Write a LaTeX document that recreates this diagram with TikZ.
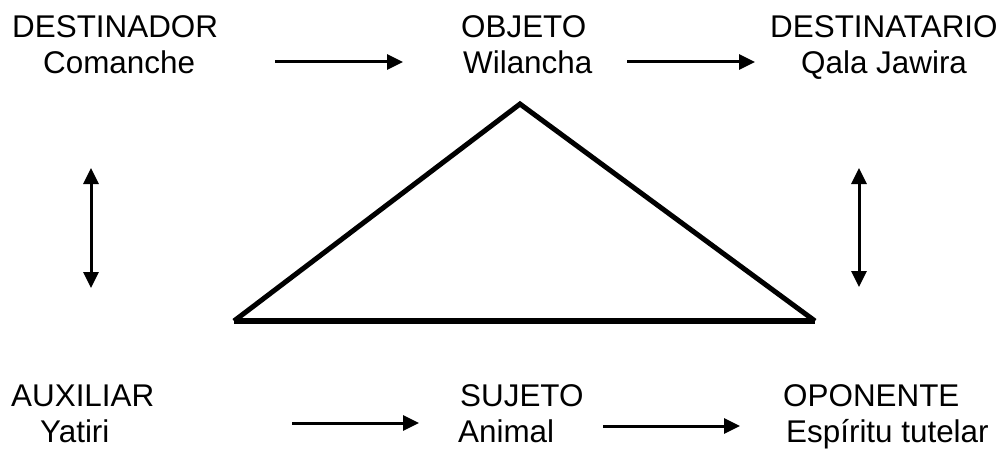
\documentclass[tikz,border=0pt]{standalone}
\usepackage{fontspec}
\setmainfont{Liberation Sans}
\usetikzlibrary{arrows.meta}
\begin{document}
\begin{tikzpicture}[x=1pt,y=-1pt,
  lbl/.style={anchor=base west,inner sep=0pt,font=\fontsize{31.4pt}{36pt}\selectfont},
  arr/.style={line width=3pt,-{Triangle[length=16pt,width=15pt]}},
  darr/.style={line width=3pt,{Triangle[length=16pt,width=15pt]}-{Triangle[length=16pt,width=15pt]}},
  tri/.style={line width=5pt}]
\path[use as bounding box,fill=white] (0,0) rectangle (1008,449);
% labels
\node[lbl] (destT) at (12,38) {DESTINADOR};
\node[lbl] (destN) at (43,74) {Comanche};
\node[lbl] (objT) at (461,38) {OBJETO};
\node[lbl] (objN) at (463,74) {Wilancha};
\node[lbl] (dstaT) at (770,38) {DESTINATARIO};
\node[lbl] (dstaN) at (801,74) {Qala Jawira};
\node[lbl] (auxT) at (11,406) {AUXILIAR};
\node[lbl] (auxN) at (40,442) {Yatiri};
\node[lbl] (sujT) at (460,406) {SUJETO};
\node[lbl] (sujN) at (458,442) {Animal};
\node[lbl] (opoT) at (783,406) {OPONENTE};
\node[lbl] (opoN) at (786,442) {Espíritu tutelar};
% arrow end points
\coordinate (a1s) at (275,62);  \coordinate (a1e) at (403,62);
\coordinate (a2s) at (627,62);  \coordinate (a2e) at (755,62);
\coordinate (a3s) at (292,423); \coordinate (a3e) at (419,423);
\coordinate (a4s) at (603,426); \coordinate (a4e) at (740,426);
\coordinate (v1s) at (91,168);  \coordinate (v1e) at (91,288);
\coordinate (v2s) at (859,168); \coordinate (v2e) at (859,287);
\draw[arr] (a1s) -- (a1e);
\draw[arr] (a2s) -- (a2e);
\draw[arr] (a3s) -- (a3e);
\draw[arr] (a4s) -- (a4e);
\draw[darr] (v1s) -- (v1e);
\draw[darr] (v2s) -- (v2e);
% triangle
\coordinate (apex) at (520,104);
\coordinate (bl) at (234,321);
\coordinate (br) at (815,321);
\draw[tri] (bl) -- (apex) -- (br);
\draw[line width=6pt] (bl) -- (br);
\end{tikzpicture}
\end{document}
